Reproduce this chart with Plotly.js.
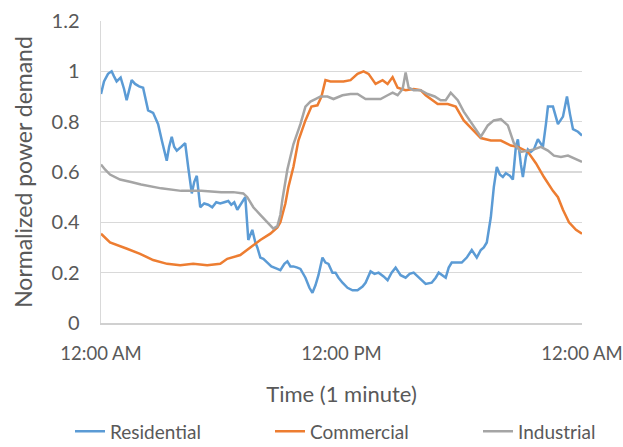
<!DOCTYPE html>
<html>
<head>
<meta charset="utf-8">
<script src="https://cdn.plot.ly/plotly-3.0.1.min.js"></script>
<style>
  html, body { margin: 0; padding: 0; background: #ffffff; }
  #chart { width: 623px; height: 447px; }
</style>
</head>
<body>
<div id="chart"></div>
<script>
// Daily normalized demand profiles; time in hours after midnight.
const residentialTime = [0, 0.15, 0.35, 0.53, 0.65, 0.78, 0.98, 1.15, 1.28, 1.4, 1.53, 1.7, 1.9, 2.1, 2.25, 2.35, 2.6, 2.75, 2.85, 3.05, 3.28, 3.4, 3.53, 3.65, 3.78, 4.0, 4.2, 4.35, 4.53, 4.65, 4.78, 4.95, 5.15, 5.35, 5.55, 5.75, 5.95, 6.15, 6.35, 6.5, 6.65, 6.8, 6.95, 7.2, 7.35, 7.45, 7.55, 7.7, 7.8, 7.95, 8.1, 8.3, 8.5, 8.8, 8.95, 9.15, 9.3, 9.45, 9.6, 9.8, 9.95, 10.2, 10.4, 10.55, 10.7, 10.85, 11.05, 11.2, 11.35, 11.55, 11.7, 11.85, 12.05, 12.3, 12.55, 12.8, 13.05, 13.2, 13.45, 13.65, 13.85, 14.1, 14.3, 14.5, 14.7, 14.95, 15.2, 15.4, 15.6, 15.8, 16.0, 16.2, 16.5, 16.7, 16.85, 17.05, 17.2, 17.35, 17.5, 17.75, 18.0, 18.25, 18.5, 18.75, 18.95, 19.1, 19.25, 19.45, 19.6, 19.75, 19.9, 20.05, 20.2, 20.4, 20.55, 20.7, 20.8, 20.95, 21.05, 21.2, 21.3, 21.45, 21.6, 21.8, 21.95, 22.05, 22.2, 22.3, 22.55, 22.8, 23.05, 23.25, 23.4, 23.55, 23.8, 24];
const residentialDemand = [0.91, 0.96, 0.99, 1.0, 0.98, 0.96, 0.975, 0.93, 0.885, 0.93, 0.965, 0.95, 0.94, 0.935, 0.88, 0.845, 0.835, 0.81, 0.79, 0.72, 0.645, 0.70, 0.74, 0.70, 0.685, 0.70, 0.715, 0.62, 0.515, 0.56, 0.585, 0.46, 0.475, 0.47, 0.46, 0.48, 0.475, 0.48, 0.485, 0.47, 0.48, 0.45, 0.47, 0.50, 0.33, 0.35, 0.37, 0.32, 0.30, 0.26, 0.255, 0.24, 0.225, 0.215, 0.21, 0.235, 0.245, 0.225, 0.225, 0.22, 0.215, 0.18, 0.14, 0.12, 0.15, 0.19, 0.26, 0.24, 0.235, 0.20, 0.20, 0.18, 0.16, 0.14, 0.13, 0.13, 0.145, 0.16, 0.205, 0.195, 0.20, 0.185, 0.17, 0.20, 0.22, 0.19, 0.18, 0.195, 0.20, 0.185, 0.17, 0.155, 0.16, 0.18, 0.20, 0.19, 0.18, 0.22, 0.24, 0.24, 0.24, 0.26, 0.29, 0.26, 0.29, 0.30, 0.32, 0.42, 0.54, 0.62, 0.59, 0.58, 0.595, 0.585, 0.57, 0.70, 0.73, 0.63, 0.58, 0.66, 0.69, 0.68, 0.69, 0.73, 0.71, 0.70, 0.79, 0.86, 0.86, 0.79, 0.82, 0.90, 0.83, 0.77, 0.76, 0.745];

const commercialTime = [0, 0.45, 1.3, 1.95, 2.6, 3.3, 3.95, 4.6, 5.3, 5.95, 6.3, 6.95, 7.45, 7.95, 8.45, 8.8, 8.95, 9.2, 9.35, 9.6, 9.85, 10.2, 10.5, 10.8, 11.0, 11.2, 11.45, 12.1, 12.45, 12.8, 13.1, 13.35, 13.7, 14.05, 14.3, 14.55, 14.8, 15.2, 15.6, 15.95, 16.2, 16.45, 16.8, 17.3, 17.7, 18.1, 18.6, 18.95, 19.45, 19.95, 20.45, 20.8, 21.3, 21.7, 22.1, 22.55, 22.8, 23.05, 23.35, 23.7, 24];
const commercialDemand = [0.355, 0.32, 0.295, 0.275, 0.25, 0.235, 0.23, 0.235, 0.23, 0.235, 0.255, 0.27, 0.30, 0.33, 0.355, 0.38, 0.40, 0.475, 0.54, 0.62, 0.725, 0.805, 0.86, 0.865, 0.90, 0.965, 0.96, 0.96, 0.965, 0.99, 1.0, 0.99, 0.95, 0.965, 0.95, 0.977, 0.935, 0.925, 0.93, 0.925, 0.905, 0.89, 0.87, 0.87, 0.86, 0.805, 0.765, 0.735, 0.725, 0.725, 0.705, 0.70, 0.68, 0.635, 0.58, 0.525, 0.50, 0.45, 0.40, 0.37, 0.355];

const industrialTime = [0, 0.2, 0.45, 0.95, 1.5, 2.0, 3.0, 4.0, 5.0, 6.0, 6.6, 7.1, 7.3, 7.6, 7.95, 8.3, 8.6, 8.8, 8.95, 9.05, 9.3, 9.6, 9.95, 10.2, 10.45, 10.7, 10.95, 11.3, 11.6, 12.05, 12.45, 12.8, 13.2, 13.6, 13.95, 14.3, 14.55, 14.8, 15.05, 15.2, 15.35, 15.6, 15.95, 16.3, 16.65, 16.95, 17.2, 17.45, 17.8, 18.1, 18.6, 18.95, 19.3, 19.6, 19.95, 20.3, 20.6, 20.95, 21.3, 21.6, 21.95, 22.3, 22.6, 22.95, 23.3, 23.6, 24];
const industrialDemand = [0.63, 0.61, 0.59, 0.57, 0.56, 0.55, 0.535, 0.525, 0.525, 0.52, 0.52, 0.515, 0.50, 0.46, 0.43, 0.40, 0.375, 0.385, 0.43, 0.49, 0.61, 0.71, 0.79, 0.86, 0.88, 0.89, 0.90, 0.90, 0.89, 0.905, 0.91, 0.91, 0.89, 0.89, 0.89, 0.905, 0.915, 0.905, 0.93, 0.995, 0.935, 0.925, 0.925, 0.91, 0.90, 0.885, 0.885, 0.915, 0.885, 0.84, 0.78, 0.74, 0.785, 0.805, 0.81, 0.785, 0.715, 0.68, 0.685, 0.69, 0.70, 0.685, 0.665, 0.66, 0.665, 0.655, 0.64];

const seriesNames = ['Residential', 'Commercial', 'Industrial'];
const seriesColors = ['#5B9BD5', '#ED7D31', '#A5A5A5'];

const xTickVals = [0, 12, 24];
const xTickText = ['12:00 AM', '12:00 PM', '12:00 AM'];

const FONT = 'Lato, "Open Sans", sans-serif';
const TEXT = '#595959';

const series = [
  [residentialTime, residentialDemand],
  [commercialTime, commercialDemand],
  [industrialTime, industrialDemand]
];

// one legend box per series so the entries sit on a single spaced row
const legendIds = ['legend', 'legend2', 'legend3'];
const legendLeft = [70, 270, 478];

const traces = series.map(([t, v], i) => ({
  type: 'scatter',
  mode: 'lines',
  name: seriesNames[i],
  x: t,
  y: v,
  line: { color: seriesColors[i], width: 2.5, shape: 'linear' },
  legend: legendIds[i],
  hoverinfo: 'skip'
}));

const layout = {
  width: 623,
  height: 447,
  paper_bgcolor: '#ffffff',
  plot_bgcolor: '#ffffff',
  margin: { l: 101, r: 41, t: 21, b: 124 },
  font: { family: FONT, color: TEXT, size: 19 },
  xaxis: {
    range: [0, 24],
    tickvals: xTickVals,
    ticktext: xTickText,
    showgrid: false,
    zeroline: false,
    showline: true,
    linecolor: '#d0d0d0',
    linewidth: 1.5,
    ticks: '',
    ticklabelstandoff: 13,
    ticklabeloverflow: 'allow',
    tickfont: { family: FONT, size: 18.5, color: TEXT },
    title: { text: 'Time (1 minute)', font: { family: FONT, size: 22, color: TEXT }, standoff: 24 },
    automargin: false,
    fixedrange: true
  },
  yaxis: {
    range: [0, 1.2],
    tickvals: [0, 0.2, 0.4, 0.6, 0.8, 1, 1.2],
    ticktext: ['0', '0.2', '0.4', '0.6', '0.8', '1', '1.2'],
    showgrid: true,
    gridcolor: '#d9d9d9',
    gridwidth: 1.5,
    zeroline: false,
    showline: true,
    linecolor: '#d9d9d9',
    linewidth: 1.5,
    ticks: '',
    ticklabelstandoff: 16,
    tickfont: { family: FONT, size: 20, color: TEXT },
    title: { text: 'Normalized power demand', font: { family: FONT, size: 23, color: TEXT }, standoff: 12 },
    automargin: false,
    fixedrange: true
  },
  showlegend: true
};

legendIds.forEach((id, i) => {
  layout[id] = {
    orientation: 'h',
    xref: 'container',
    yref: 'container',
    x: legendLeft[i] / 623,
    xanchor: 'left',
    y: 0.035,
    yanchor: 'middle',
    font: { family: FONT, size: 19, color: TEXT },
    bgcolor: 'rgba(0,0,0,0)'
  };
});

Plotly.newPlot('chart', traces, layout, { displayModeBar: false, staticPlot: true });
</script>
</body>
</html>
